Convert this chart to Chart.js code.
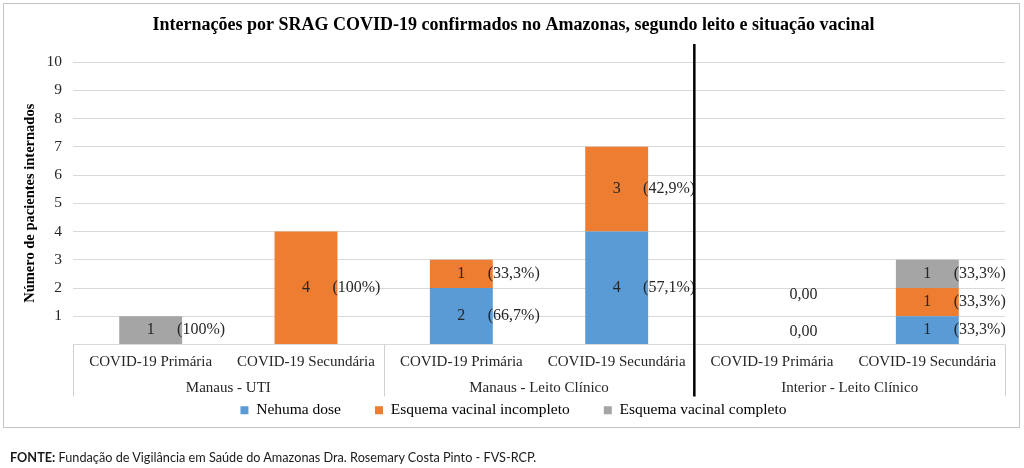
<!DOCTYPE html>
<html lang="pt-BR">
<head>
<meta charset="utf-8">
<script src="https://cdn.jsdelivr.net/npm/chart.js@4.4.1/dist/chart.umd.min.js"></script>
<style>
    body { margin: 0; background: #fff; }
    #wrap { position: relative; width: 1024px; height: 468px; overflow: hidden; }
    #grafico { position: absolute; left: 0; top: 0; }
    #moldura { position: absolute; left: 3px; top: 3px; width: 1015px; height: 423px; border: 1px solid #c4c4c4; pointer-events: none; }
    #fonte { position: absolute; left: 10px; top: 449px; font-family: Lato, "Open Sans", sans-serif; font-size: 12.7px; color: #1a1a1a; white-space: nowrap; }
</style>
</head>
<body>
<div id="wrap">
    <canvas id="grafico" width="1024" height="468"></canvas>
    <div id="moldura"></div>
    <div id="fonte"><b>FONTE:</b> Fundação de Vigilância em Saúde do Amazonas Dra. Rosemary Costa Pinto - FVS-RCP.</div>
</div>
<script>
const categorias = ["COVID-19 Primária", "COVID-19 Secundária", "COVID-19 Primária", "COVID-19 Secundária", "COVID-19 Primária", "COVID-19 Secundária"];
const grupos = ["Manaus - UTI", "Manaus - Leito Clínico", "Interior - Leito Clínico"];
const series = ["Nehuma dose", "Esquema vacinal incompleto", "Esquema vacinal completo"];

const nenhumaDose = [0, 0, 2, 4, 0, 1];
const vacinalIncompleto = [0, 4, 1, 3, 0, 1];
const vacinalCompleto = [1, 0, 0, 0, 0, 1];

// rotulos entre parenteses ao lado de cada barra
const pctNenhuma = ["", "", "(66,7%)", "(57,1%)", "0,00", "(33,3%)"];
const pctIncompleto = ["", "(100%)", "(33,3%)", "(42,9%)", "0,00", "(33,3%)"];
const pctCompleto = ["(100%)", "", "", "", "", "(33,3%)"];

const cores = ["#5b9bd5", "#ed7d31", "#a5a5a5"];
const serif = "'Liberation Serif', 'Times New Roman', serif";

const percentuais = [pctNenhuma, pctIncompleto, pctCompleto];

const rotulosPlugin = {
    id: "rotulos",
    afterDatasetsDraw(chart) {
        const ctx = chart.ctx;
        ctx.save();
        ctx.font = "16px " + serif;
        ctx.fillStyle = "#262626";
        ctx.textBaseline = "middle";
        const zeros = {};
        chart.data.datasets.forEach((ds, i) => {
            const meta = chart.getDatasetMeta(i);
            meta.data.forEach((barra, j) => {
                const v = ds.data[j];
                const pct = percentuais[i][j];
                if (v > 0) {
                    const meio = (barra.y + barra.base) / 2;
                    ctx.textAlign = "center";
                    ctx.fillText(String(v), barra.x, meio);
                    if (pct) {
                        ctx.textAlign = "left";
                        ctx.fillText(pct, barra.x + barra.width / 2 - 5, meio);
                    }
                } else if (pct) {
                    // valores zero: o Excel empilha os rotulos acima da base
                    const k = zeros[j] || 0;
                    zeros[j] = k + 1;
                    ctx.textAlign = "center";
                    ctx.fillText(pct, barra.x + barra.width / 2, barra.base - 13 - k * 37);
                }
            });
        });
        ctx.restore();
    }
};

const linhasPlugin = {
    id: "linhas",
    afterLayout(chart) {
        // a legenda usa padding grande para espacar os itens; sobe o bloco
        chart.legend.top -= 29;
        chart.legend.bottom -= 29;
    },
    afterDraw(chart) {
        const ctx = chart.ctx;
        const area = chart.chartArea;
        const x = chart.scales.x;
        const meio = (i) => (x.getPixelForValue(i) + x.getPixelForValue(i + 1)) / 2;
        ctx.save();
        // divisorias dos grupos no eixo
        ctx.strokeStyle = "#d0d0d0";
        ctx.lineWidth = 1;
        [area.left, meio(1), area.right].forEach(px => {
            ctx.beginPath();
            ctx.moveTo(Math.round(px) + 0.5, area.bottom);
            ctx.lineTo(Math.round(px) + 0.5, area.bottom + 52);
            ctx.stroke();
        });
        // linha preta separando Manaus / Interior
        ctx.strokeStyle = "#000";
        ctx.lineWidth = 2.5;
        ctx.beginPath();
        ctx.moveTo(meio(3), area.top - 18);
        ctx.lineTo(meio(3), area.bottom + 52);
        ctx.stroke();
        ctx.restore();
    }
};

const grafico = new Chart(document.getElementById("grafico").getContext("2d"), {
    type: "bar",
    data: {
        labels: categorias,
        datasets: [
            { label: series[0], data: nenhumaDose, backgroundColor: cores[0] },
            { label: series[1], data: vacinalIncompleto, backgroundColor: cores[1] },
            { label: series[2], data: vacinalCompleto, backgroundColor: cores[2] }
        ]
    },
    options: {
        responsive: false,
        animation: false,
        barPercentage: 0.405,
        categoryPercentage: 1,
        layout: { padding: { top: 15, left: 22, right: 19, bottom: 11 } },
        plugins: {
            title: {
                display: true,
                text: "Internações por SRAG COVID-19 confirmados no Amazonas, segundo leito e situação vacinal",
                color: "#000",
                font: { family: serif, size: 18, weight: "bold" },
                padding: { top: 0, bottom: 25.4 }
            },
            legend: {
                position: "bottom",
                labels: {
                    color: "#000",
                    boxWidth: 8,
                    boxHeight: 8,
                    padding: 34,
                    font: { family: serif, size: 15.5 }
                }
            },
            tooltip: { enabled: false }
        },
        scales: {
            x: {
                stacked: true,
                grid: { display: false, drawTicks: false },
                border: { display: false },
                ticks: { color: "#262626", font: { family: serif, size: 15, lineHeight: 1 }, padding: 10, maxRotation: 0, autoSkip: false }
            },
            x2: {
                type: "category",
                labels: grupos,
                position: "bottom",
                offset: true,
                grid: { display: false, drawTicks: false },
                border: { display: false },
                ticks: { color: "#262626", font: { family: serif, size: 15 }, padding: 0 }
            },
            y: {
                stacked: true,
                min: 0,
                max: 10,
                afterFit: (escala) => { escala.width = 51; },
                ticks: {
                    stepSize: 1,
                    color: "#262626",
                    padding: 11,
                    font: { family: serif, size: 15.5 },
                    callback: (v) => (v === 0 ? "" : v)
                },
                grid: { color: "#d9d9d9", drawTicks: false },
                border: { display: false },
                title: {
                    display: true,
                    text: "Número de pacientes internados",
                    color: "#000",
                    font: { family: serif, size: 14.5, weight: "bold" },
                    padding: { top: 0, bottom: 0 }
                }
            }
        }
    },
    plugins: [rotulosPlugin, linhasPlugin]
});
</script>
</body>
</html>
